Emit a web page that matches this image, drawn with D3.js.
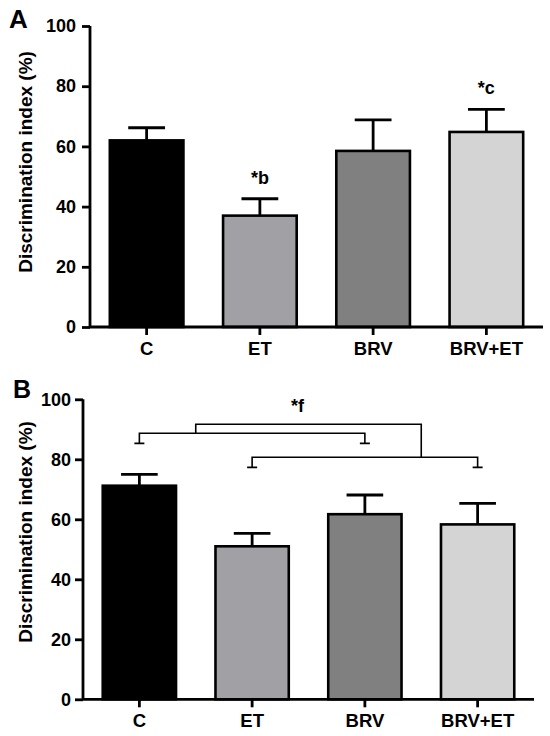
<!DOCTYPE html>
<html>
<head>
<meta charset="utf-8">
<script src="https://cdn.jsdelivr.net/npm/d3@7"></script>
<style>
  body { margin: 0; background: #fff; }
  svg text { font-family: "Liberation Sans", Arial, sans-serif; font-weight: bold; fill: #000; }
</style>
</head>
<body>
<svg id="chart" width="550" height="736"></svg>
<script>
// groups and values
const groups = ['C', 'ET', 'BRV', 'BRV+ET'];
const fills = ['#000000', '#a1a1a5', '#808080', '#d4d4d4'];
const yTicks = [0, 20, 40, 60, 80, 100];

// panel A
const meanA = [62, 37, 58.5, 64.8];
const errA = [4.2, 5.6, 10.3, 7.5];
const marksA = [null, '*b', null, '*c'];

// panel B
const meanB = [71.2, 51, 61.7, 58.3];
const errB = [3.8, 4.3, 6.4, 7];
// comparison brackets: [from group, to group, line value, leg bottom value]
const bracketsB = [
  ['C', 'BRV', 88.7, 85.3],
  ['ET', 'BRV+ET', 80.7, 77.3]
];
const bracketTop = 91.7;
const bracketLabel = '*f';

const svg = d3.select('#chart');

function drawPanel(cfg) {
  const x = d3.scaleBand().domain(groups).range([cfg.left, cfg.right]).paddingInner(0.35).paddingOuter(0.175);
  const y = d3.scaleLinear().domain([0, 100]).range([cfg.bottom, cfg.top]);
  const g = svg.append('g');

  // bars
  g.selectAll('rect.bar')
    .data(groups)
    .join('rect')
    .attr('class', 'bar')
    .attr('x', d => x(d))
    .attr('width', x.bandwidth())
    .attr('y', (d, i) => y(cfg.mean[i]))
    .attr('height', (d, i) => y(0) - y(cfg.mean[i]))
    .attr('fill', (d, i) => fills[i])
    .attr('stroke', '#000')
    .attr('stroke-width', 2.6);

  // error bars (upper only)
  const capW = x.bandwidth() * 0.5;
  groups.forEach((d, i) => {
    const cx = x(d) + x.bandwidth() / 2;
    const top = y(cfg.mean[i] + cfg.err[i]);
    g.append('line')
      .attr('x1', cx).attr('x2', cx)
      .attr('y1', y(cfg.mean[i])).attr('y2', top)
      .attr('stroke', '#000').attr('stroke-width', 2.8);
    g.append('line')
      .attr('x1', cx - capW / 2).attr('x2', cx + capW / 2)
      .attr('y1', top).attr('y2', top)
      .attr('stroke', '#000').attr('stroke-width', 2.8);
  });

  // axes
  const yAxis = g.append('g')
    .attr('transform', `translate(${cfg.left},0)`)
    .call(d3.axisLeft(y).tickValues(yTicks).tickSize(8).tickPadding(cfg.yPad));
  const xAxis = g.append('g')
    .attr('transform', `translate(0,${cfg.bottom})`)
    .call(d3.axisBottom(x).tickSize(8).tickPadding(7).tickSizeOuter(0));
  [yAxis, xAxis].forEach(a => {
    a.select('.domain').attr('stroke', '#000').attr('stroke-width', 2.8);
    a.selectAll('.tick line').attr('stroke', '#000').attr('stroke-width', 2.8);
  });
  yAxis.select('.domain').attr('d', `M0,${cfg.top}V${cfg.bottom}`);
  xAxis.select('.domain').attr('d', `M${cfg.left},0H${cfg.right}`);
  yAxis.selectAll('.tick text').style('font-size', '18px');
  xAxis.selectAll('.tick text').style('font-size', '18.5px');

  // axis title
  g.append('text')
    .attr('transform', `translate(32,${cfg.titleY}) rotate(-90)`)
    .attr('text-anchor', 'middle')
    .style('font-size', '19px')
    .text('Discrimination index (%)');

  // panel letter
  g.append('text')
    .attr('x', cfg.letterX).attr('y', cfg.letterY)
    .style('font-size', cfg.letterSize + 'px')
    .text(cfg.letter);

  return { x, y, g };
}

// panel A
const pa = drawPanel({
  left: 90, right: 543, top: 26, bottom: 327, yPad: 6,
  mean: meanA, err: errA, titleY: 162,
  letter: 'A', letterX: 9, letterY: 28, letterSize: 26
});
pa.g.selectAll('text.mark')
  .data(groups.filter((d, i) => marksA[i]))
  .join('text')
  .attr('class', 'mark')
  .attr('x', d => pa.x(d) + pa.x.bandwidth() / 2)
  .attr('y', d => pa.y(meanA[groups.indexOf(d)] + errA[groups.indexOf(d)]) - 15)
  .attr('text-anchor', 'middle')
  .style('font-size', '18px')
  .text(d => marksA[groups.indexOf(d)]);

// panel B
const pb = drawPanel({
  left: 83, right: 534, top: 399.3, bottom: 699.3, yPad: 4,
  mean: meanB, err: errB, titleY: 532,
  letter: 'B', letterX: 13, letterY: 398, letterSize: 25
});
const cxB = d => pb.x(d) + pb.x.bandwidth() / 2;
const legCap = 10;
const joins = [];
bracketsB.forEach(([a, b, lineV, legV]) => {
  const x1 = cxB(a), x2 = cxB(b);
  pb.g.append('path')
    .attr('d', `M${x1},${pb.y(legV)}V${pb.y(lineV)}H${x2}V${pb.y(legV)}` +
      `M${x1 - legCap / 2},${pb.y(legV)}h${legCap}M${x2 - legCap / 2},${pb.y(legV)}h${legCap}`)
    .attr('fill', 'none').attr('stroke', '#000').attr('stroke-width', 1.6);
  joins.push({ x: x1 + (x2 - x1) * (joins.length === 0 ? 0.25 : 0.75), v: lineV });
});
pb.g.append('path')
  .attr('d', `M${joins[0].x},${pb.y(joins[0].v)}V${pb.y(bracketTop)}H${joins[1].x}V${pb.y(joins[1].v)}`)
  .attr('fill', 'none').attr('stroke', '#000').attr('stroke-width', 1.6);
pb.g.append('text')
  .attr('x', (joins[0].x + joins[1].x) / 2 - 11)
  .attr('y', pb.y(bracketTop) - 12)
  .attr('text-anchor', 'middle')
  .style('font-size', '18px')
  .text(bracketLabel);
</script>
</body>
</html>
